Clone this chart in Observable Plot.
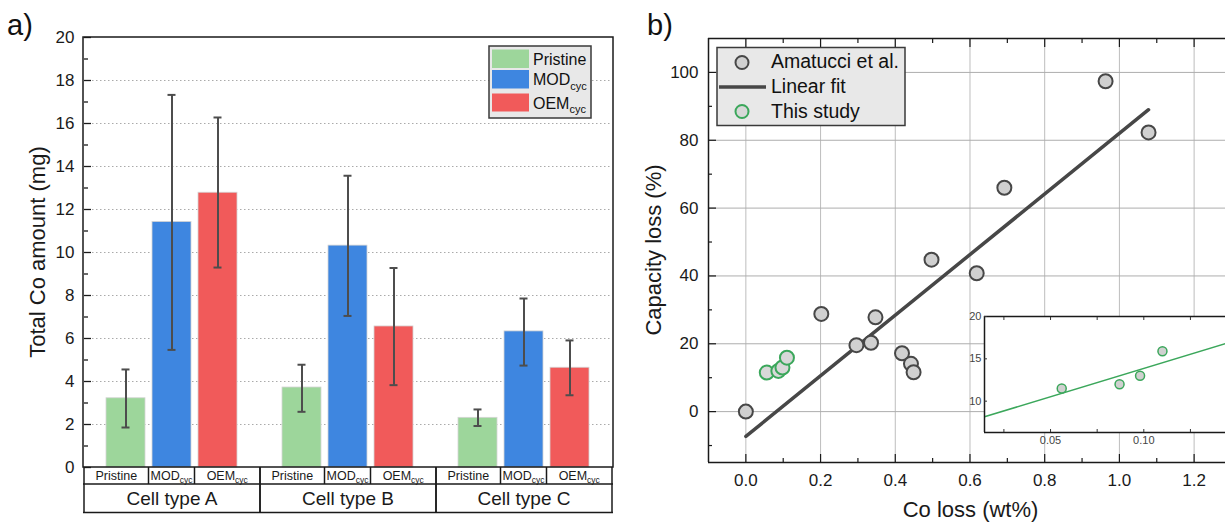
<!DOCTYPE html>
<html><head><meta charset="utf-8">
<script src="https://cdn.jsdelivr.net/npm/d3@7"></script>
<script src="https://cdn.jsdelivr.net/npm/@observablehq/plot@0.6"></script>
<style>
body{margin:0;overflow:hidden;background:#fff;font-family:"Liberation Sans",Arial,sans-serif}
#root{position:relative;width:1225px;height:522px;overflow:hidden}
#root svg{position:absolute;overflow:visible}
</style></head><body><div id="root"></div>
<script>
// ---------- Panel a data ----------
const groups = ["Cell type A", "Cell type B", "Cell type C"];
const series = ["Pristine", "MOD_cyc", "OEM_cyc"];
const pristineMean = [3.22, 3.72, 2.31];
const pristineLow  = [1.86, 2.59, 1.93];
const pristineHigh = [4.56, 4.78, 2.70];
const modMean = [11.42, 10.32, 6.33];
const modLow  = [5.47, 7.05, 4.74];
const modHigh = [17.33, 13.57, 7.86];
const oemMean = [12.78, 6.56, 4.64];
const oemLow  = [9.30, 3.83, 3.36];
const oemHigh = [16.28, 9.28, 5.91];
const yTicksA = [0, 2, 4, 6, 8, 10, 12, 14, 16, 18, 20];
const yMinorA = [1, 3, 5, 7, 9, 11, 13, 15, 17, 19];
const yGridA = [2, 4, 6, 8, 10, 12, 14, 16, 18];
const colorsA = ["#9dd69b", "#3e86e0", "#f15a5a"];

// ---------- Panel b data ----------
const amatucciX = [0.0, 0.202, 0.296, 0.335, 0.347, 0.418, 0.442, 0.449, 0.497, 0.618, 0.692, 0.963, 1.078];
const amatucciY = [0.0, 28.8, 19.6, 20.3, 27.8, 17.2, 14.1, 11.6, 44.8, 40.8, 66.0, 97.4, 82.3];
const studyX = [0.056, 0.087, 0.098, 0.110];
const studyY = [11.5, 12.0, 13.0, 15.9];
const fitX = [0.0, 1.078];
const fitY = [-7.3, 89.0];
const insetFitX = [0.0146, 0.1438];
const insetFitY = [8.15, 16.8];
const xTicksB = [0, 0.2, 0.4, 0.6, 0.8, 1.0, 1.2];
const xMinorB = [0.1, 0.3, 0.5, 0.7, 0.9, 1.1];
const yTicksB = [0, 20, 40, 60, 80, 100];
const yMinorB = [-10, 10, 30, 50, 70, 90];
const insetXTicks = [0.05, 0.10];
const insetXMinor = [0.025, 0.075, 0.125];
const insetYTicks = [10, 15, 20];
const legendB = ["Amatucci et al.", "Linear fit", "This study"];

const FONT = "Liberation Sans, Arial, sans-serif";
const root = document.getElementById("root");

function subLabel(sel, label, subSize, shift) {
  const [main, sub] = label.split("_");
  sel.append("tspan").text(main);
  if (sub) sel.append("tspan").attr("font-size", subSize).attr("dy", shift).text(sub);
}

// ---------- Panel a ----------
const means = [pristineMean, modMean, oemMean];
const lows = [pristineLow, modLow, oemLow];
const highs = [pristineHigh, modHigh, oemHigh];
const barData = [];
groups.forEach((g, i) => series.forEach((s, j) => barData.push({
  group: g, series: s, value: means[j][i], lo: lows[j][i], hi: highs[j][i]
})));

const errStyle = {stroke: "#4d4d4d", strokeWidth: 2};
const plotA = Plot.plot({
  width: 620, height: 522,
  marginLeft: 83, marginRight: 7, marginTop: 37, marginBottom: 55,
  style: {fontFamily: FONT, fontSize: "17px", color: "#1a1a1a", background: "transparent"},
  fx: {domain: groups, padding: 0, axis: null, label: null},
  x: {domain: series, paddingInner: 0.143, paddingOuter: 0.463, axis: null},
  y: {domain: [0, 20], axis: null},
  color: {domain: series, range: colorsA},
  marks: [
    Plot.gridY(yGridA, {stroke: "#aaaaaa", strokeOpacity: 1, strokeDasharray: "1.5,2.5"}),
    Plot.barY(barData, {fx: "group", x: "series", y: "value", fill: "series", stroke: "#d4d4d4", strokeWidth: 0.8}),
    Plot.ruleX(barData, {fx: "group", x: "series", y1: "lo", y2: "hi", ...errStyle}),
    Plot.tickY(barData, {fx: "group", x: "series", y: "hi", insetLeft: 15.5, insetRight: 15.5, ...errStyle}),
    Plot.tickY(barData, {fx: "group", x: "series", y: "lo", insetLeft: 15.5, insetRight: 15.5, ...errStyle}),
    Plot.axisY(yTicksA, {tickSize: 0, tickPadding: 10, fontSize: 17, label: null}),
    Plot.axisY(yTicksA, {tickSize: -7, fill: "none", label: null, strokeWidth: 1.3}),
    Plot.axisY(yMinorA, {tickSize: -4, fill: "none", label: null, strokeWidth: 1.3})
  ]
});
plotA.style.left = "0px"; plotA.style.top = "0px";
root.appendChild(plotA);

{
  const svg = d3.select(plotA);
  const fx = plotA.scale("fx"), x = plotA.scale("x"), y = plotA.scale("y");
  const [yb, yt] = y.range;
  const xL = fx.range[0], xR = fx.range[1];
  const x0 = x.range[0];
  const g = svg.append("g").attr("fill", "none").attr("stroke", "#1a1a1a").attr("stroke-width", 1.5);
  g.append("rect").attr("x", xL).attr("y", yt).attr("width", xR - xL).attr("height", yb - yt);
  const r1 = yb + 17, r2 = yb + 45.5;
  g.append("line").attr("x1", xL).attr("x2", xR).attr("y1", r1).attr("y2", r1);
  g.append("line").attr("x1", xL).attr("x2", xR).attr("y1", r2).attr("y2", r2);
  const t = svg.append("g").attr("font-family", FONT).attr("fill", "#1a1a1a").attr("text-anchor", "middle");
  groups.forEach((grp, i) => {
    const gl = fx.apply(grp), gr = gl + fx.bandwidth;
    [gl, gr].forEach(v => g.append("line").attr("x1", v).attr("x2", v).attr("y1", yb).attr("y2", r2));
    const edges = [gl];
    series.forEach((s, j) => {
      if (j < series.length - 1) {
        const d = gl + (x.apply(s) - x0) + x.bandwidth + (x.step - x.bandwidth) / 2;
        edges.push(d);
        g.append("line").attr("x1", d).attr("x2", d).attr("y1", yb).attr("y2", r1);
      }
    });
    edges.push(gr);
    series.forEach((s, j) => {
      const cx = (edges[j] + edges[j + 1]) / 2;
      subLabel(t.append("text").attr("x", cx).attr("y", yb + 13).attr("font-size", 12.5), s, 8.5, 3);
    });
    t.append("text").attr("x", (gl + gr) / 2).attr("y", yb + 37.5).attr("font-size", 19).text(grp);
  });
  // legend
  const lg = svg.append("g").attr("font-family", FONT).attr("text-anchor", "start");
  lg.append("rect").attr("x", 489).attr("y", 46).attr("width", 102).attr("height", 72)
    .attr("fill", "#e8e8e8").attr("stroke", "#3a3a3a").attr("stroke-width", 1.5);
  const rowsY = [49.5, 70, 93.5], rowsH = [18.5, 18.5, 18];
  series.forEach((s, j) => {
    lg.append("rect").attr("x", 492).attr("y", rowsY[j]).attr("width", 37).attr("height", rowsH[j]).attr("fill", colorsA[j]);
    subLabel(lg.append("text").attr("x", 533).attr("y", rowsY[j] + 15).attr("font-size", 16).attr("fill", "#111"), s, 11, 4.5);
  });
  // axis title and panel label
  svg.append("text").attr("transform", `translate(37.5,${(yb + yt) / 2}) rotate(-90)`)
    .attr("text-anchor", "middle").attr("dominant-baseline", "central")
    .attr("font-family", FONT).attr("font-size", 22).attr("fill", "#1a1a1a").text("Total Co amount (mg)");
  svg.append("text").attr("x", 7).attr("y", 35).attr("text-anchor", "start")
    .attr("font-family", FONT).attr("font-size", 29).attr("fill", "#111").text("a)");
}

// ---------- Panel b ----------
const amatucci = amatucciX.map((v, i) => ({x: v, y: amatucciY[i]}));
const study = studyX.map((v, i) => ({x: v, y: studyY[i]}));
const fit = fitX.map((v, i) => ({x: v, y: fitY[i]}));
const insetFit = insetFitX.map((v, i) => ({x: v, y: insetFitY[i]}));
const xDomB = [-0.1, 1.284], yDomB = [-15, 110];
const greyFill = "#d0d0d0", darkStroke = "#474747", green = "#3ba75b";

const plotB = Plot.plot({
  width: 605, height: 522,
  marginLeft: 88, marginRight: 0, marginTop: 38, marginBottom: 60,
  style: {fontFamily: FONT, fontSize: "17px", color: "#1a1a1a", background: "transparent"},
  x: {domain: xDomB, axis: null},
  y: {domain: yDomB, axis: null},
  marks: [
    Plot.gridX(xTicksB, {stroke: "#bdbdbd", strokeOpacity: 1, strokeWidth: 1}),
    Plot.gridY(yTicksB, {stroke: "#adadad", strokeOpacity: 1, strokeWidth: 1}),
    Plot.line(fit, {x: "x", y: "y", stroke: "#474747", strokeWidth: 3.5}),
    Plot.dot(amatucci, {x: "x", y: "y", r: 7, fill: greyFill, stroke: darkStroke, strokeWidth: 2}),
    Plot.dot(study, {x: "x", y: "y", r: 7, fill: "#d8d8d8", stroke: green, strokeWidth: 2}),
    Plot.ruleX([xDomB[0]], {stroke: "#1a1a1a", strokeWidth: 1.5}),
    Plot.ruleY([yDomB[0]], {stroke: "#1a1a1a", strokeWidth: 1.5}),
    Plot.ruleY([yDomB[1]], {stroke: "#1a1a1a", strokeWidth: 1.5}),
    Plot.axisY(yTicksB, {tickSize: 0, tickPadding: 10, fontSize: 17, label: null}),
    Plot.axisY(yTicksB, {tickSize: -8, fill: "none", label: null, strokeWidth: 1.2}),
    Plot.axisY(yMinorB, {tickSize: -4, fill: "none", label: null, strokeWidth: 1.2}),
    Plot.axisX(xTicksB, {anchor: "bottom", tickSize: 0, tickPadding: 11, fontSize: 17, tickFormat: d3.format(".1f"), label: null}),
    Plot.axisX(xTicksB, {anchor: "bottom", tickSize: -8, fill: "none", label: null, strokeWidth: 1.2}),
    Plot.axisX(xMinorB, {anchor: "bottom", tickSize: -4, fill: "none", label: null, strokeWidth: 1.2}),
    Plot.axisX(xTicksB, {anchor: "top", tickSize: -8, fill: "none", label: null, strokeWidth: 1.2}),
    Plot.axisX(xMinorB, {anchor: "top", tickSize: -4, fill: "none", label: null, strokeWidth: 1.2})
  ]
});
plotB.style.left = "620px"; plotB.style.top = "0px";
root.appendChild(plotB);

{
  const svg = d3.select(plotB);
  const y = plotB.scale("y"), x = plotB.scale("x");
  const [yb, yt] = y.range;
  const [xl, xr] = x.range;
  svg.append("text").attr("transform", `translate(33,${(yb + yt) / 2}) rotate(-90)`)
    .attr("text-anchor", "middle").attr("dominant-baseline", "central")
    .attr("font-family", FONT).attr("font-size", 22).attr("fill", "#1a1a1a").text("Capacity loss (%)");
  svg.append("text").attr("x", (xl + xr) / 2 + 4).attr("y", 517)
    .attr("text-anchor", "middle").attr("font-family", FONT).attr("font-size", 22).attr("fill", "#1a1a1a").text("Co loss (wt%)");
  svg.append("text").attr("x", 27).attr("y", 35).attr("text-anchor", "start")
    .attr("font-family", FONT).attr("font-size", 29).attr("fill", "#111").text("b)");
  // legend
  const lg = svg.append("g").attr("font-family", FONT).attr("text-anchor", "start");
  lg.append("rect").attr("x", 97).attr("y", 47.5).attr("width", 188).attr("height", 78)
    .attr("fill", "#e8e8e8").attr("stroke", "#3a3a3a").attr("stroke-width", 1.5);
  lg.append("circle").attr("cx", 122).attr("cy", 62.5).attr("r", 6.5).attr("fill", greyFill).attr("stroke", darkStroke).attr("stroke-width", 2);
  lg.append("line").attr("x1", 99).attr("x2", 146).attr("y1", 87).attr("y2", 87).attr("stroke", "#474747").attr("stroke-width", 3.5);
  lg.append("circle").attr("cx", 122).attr("cy", 111.5).attr("r", 6.5).attr("fill", "#d8d8d8").attr("stroke", green).attr("stroke-width", 2);
  [67.5, 93, 117.5].forEach((by, i) => {
    lg.append("text").attr("x", 151).attr("y", by).attr("font-size", 19.5).attr("fill", "#111").text(legendB[i]);
  });
}

// ---------- Inset ----------
const xDomI = [0.0146, 0.1438], yDomI = [6.3, 20];
const plotI = Plot.plot({
  width: 261, height: 146,
  marginLeft: 20, marginRight: 0, marginTop: 10, marginBottom: 20,
  style: {fontFamily: FONT, fontSize: "11px", color: "#444", background: "transparent"},
  x: {domain: xDomI, axis: null},
  y: {domain: yDomI, axis: null},
  marks: [
    Plot.frame({fill: "white", stroke: "none"}),
    Plot.line(insetFit, {x: "x", y: "y", stroke: green, strokeWidth: 1.5, clip: true}),
    Plot.dot(study, {x: "x", y: "y", r: 4.5, fill: greyFill, stroke: green, strokeWidth: 1.5}),
    Plot.ruleX([xDomI[0]], {stroke: "#1a1a1a", strokeWidth: 1.5}),
    Plot.ruleY([yDomI[0]], {stroke: "#1a1a1a", strokeWidth: 1.5}),
    Plot.ruleY([yDomI[1]], {stroke: "#1a1a1a", strokeWidth: 1.5}),
    Plot.axisY(insetYTicks, {tickSize: 0, tickPadding: 3, fontSize: 11, label: null, fill: "#444"}),
    Plot.axisY(insetYTicks, {tickSize: -3, fill: "none", label: null, stroke: "#333"}),
    Plot.axisX(insetXTicks, {anchor: "bottom", tickSize: 0, tickPadding: 4, fontSize: 11, tickFormat: d3.format(".2f"), label: null, fill: "#444"}),
    Plot.axisX(insetXTicks.concat(insetXMinor), {anchor: "bottom", tickSize: -3, fill: "none", label: null, stroke: "#333"}),
    Plot.axisX(insetXTicks.concat(insetXMinor), {anchor: "top", tickSize: -3, fill: "none", label: null, stroke: "#333"})
  ]
});
plotI.style.left = "964px"; plotI.style.top = "306px";
root.appendChild(plotI);
</script>
</body></html>
